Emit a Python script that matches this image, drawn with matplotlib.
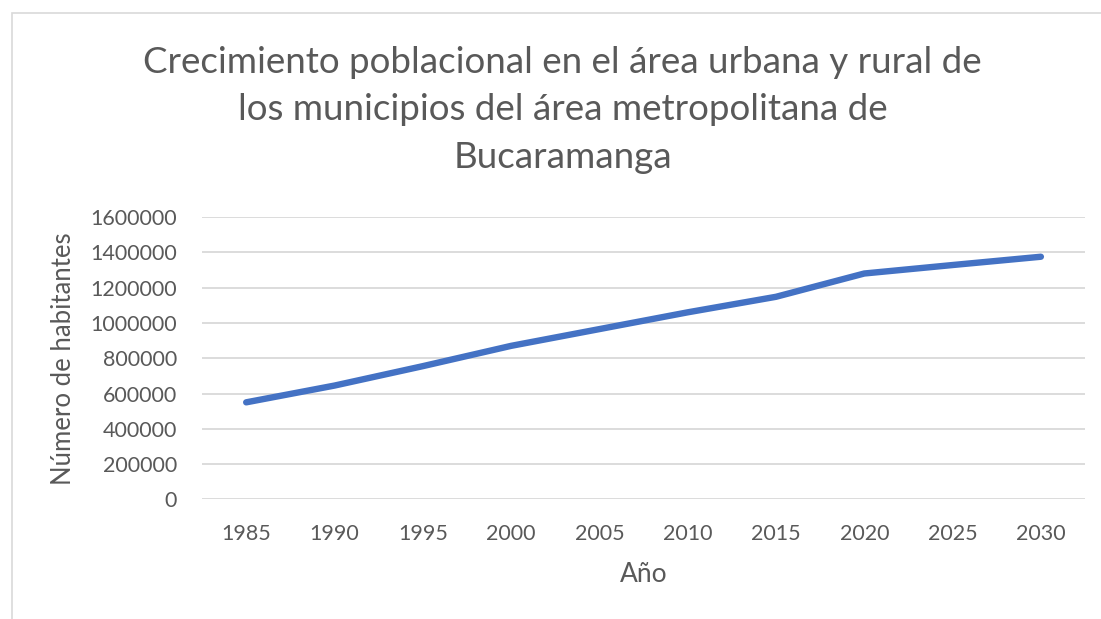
import numpy as np
import matplotlib.pyplot as plt
from matplotlib.patches import Rectangle

# datos
anios = ['1985', '1990', '1995', '2000', '2005', '2010', '2015', '2020', '2025', '2030']
habitantes = [550000, 645000, 755000, 870000, 965000, 1060000, 1148000, 1280000, 1328000, 1375000]
y_ticks = [0, 200000, 400000, 600000, 800000, 1000000, 1200000, 1400000, 1600000]

plt.rcParams['font.family'] = ['Lato', 'DejaVu Sans']
gris = '#595959'

fig = plt.figure(figsize=(11.01, 6.19), dpi=100)
ax = fig.add_axes([0.1835, 0.1932, 0.802, 0.4562])

# marco del gráfico
fig.patches.append(Rectangle((12 / 1101, -0.01), 1.0, 1 - 13 / 619 + 0.01,
                             transform=fig.transFigure, fill=False,
                             edgecolor='#d9d9d9', linewidth=1.2))

x = np.arange(len(anios))
ax.plot(x, habitantes, color='#4472C4', linewidth=4.6, solid_capstyle='round',
        solid_joinstyle='round', zorder=3)

ax.set_xlim(-0.5, len(anios) - 0.5)
ax.set_ylim(0, 1600000)
ax.set_yticks(y_ticks)
ax.set_yticklabels([str(v) for v in y_ticks])
ax.set_xticks(x)
ax.set_xticklabels(anios)
ax.grid(axis='y', color='#d9d9d9', linewidth=1.3)
ax.set_axisbelow(True)
for s in ax.spines.values():
    s.set_visible(False)
ax.tick_params(length=0, labelsize=15.5, colors=gris)
ax.tick_params(axis='x', pad=18)
ax.tick_params(axis='y', pad=18)

ax.set_xlabel('Año', fontsize=19, color=gris, labelpad=13)
ax.set_ylabel('Número de habitantes', fontsize=18.5, color=gris, labelpad=10)

fig.text(0.511, 1 - 110 / 619,
         'Crecimiento poblacional en el área urbana y rural de\n'
         'los municipios del área metropolitana de\n'
         'Bucaramanga',
         ha='center', va='center', fontsize=26.5, color=gris, linespacing=1.52)

fig.savefig('out.png', dpi=100)
